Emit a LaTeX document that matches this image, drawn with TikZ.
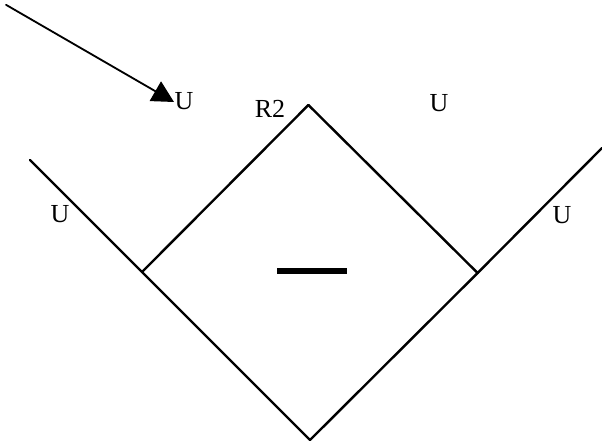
\documentclass[tikz,border=0pt]{standalone}
\usepackage{fontspec}
\setmainfont{Liberation Serif}
\usetikzlibrary{arrows.meta}

\begin{document}
\begin{tikzpicture}[line cap=round, wire/.style={line width=1.7pt}, lbl/.style={inner sep=0pt, font=\fontsize{18.5}{20}\selectfont}]
  \useasboundingbox (0,0) rectangle (15.05,11.05);
  \coordinate (start) at (0.15, 10.93);
  \coordinate (tip) at (4.35, 8.50);
  \coordinate (leftend) at (0.75, 7.05);
  \coordinate (leftjoin) at (3.55, 4.25);
  \coordinate (bottom) at (7.75, 0.05);
  \coordinate (rightjoin) at (11.94, 4.225);
  \coordinate (rightend) at (15.05, 7.35);
  \coordinate (top) at (7.71, 8.425);
  \coordinate (barl) at (6.925, 4.275);
  \coordinate (barr) at (8.675, 4.275);
  \node[lbl] (u1) at (4.60, 8.52) {U};
  \node[lbl] (r2) at (6.75, 8.33) {R2};
  \node[lbl] (u2) at (10.975, 8.475) {U};
  \node[lbl] (u3) at (1.50, 5.70) {U};
  \node[lbl] (u4) at (14.05, 5.675) {U};
  \draw[line width=1.3pt, -{Triangle[length=0.54cm, width=0.56cm]}] (start) -- (tip);
  \draw[wire] (leftend) -- (leftjoin);
  \draw[wire] (leftjoin) -- (bottom);
  \draw[wire] (bottom) -- (rightjoin);
  \draw[wire] (rightjoin) -- (rightend);
  \draw[wire] (leftjoin) -- (top);
  \draw[wire] (top) -- (rightjoin);
  \draw[line width=3.9pt, line cap=butt] (barl) -- (barr);
\end{tikzpicture}
\end{document}
